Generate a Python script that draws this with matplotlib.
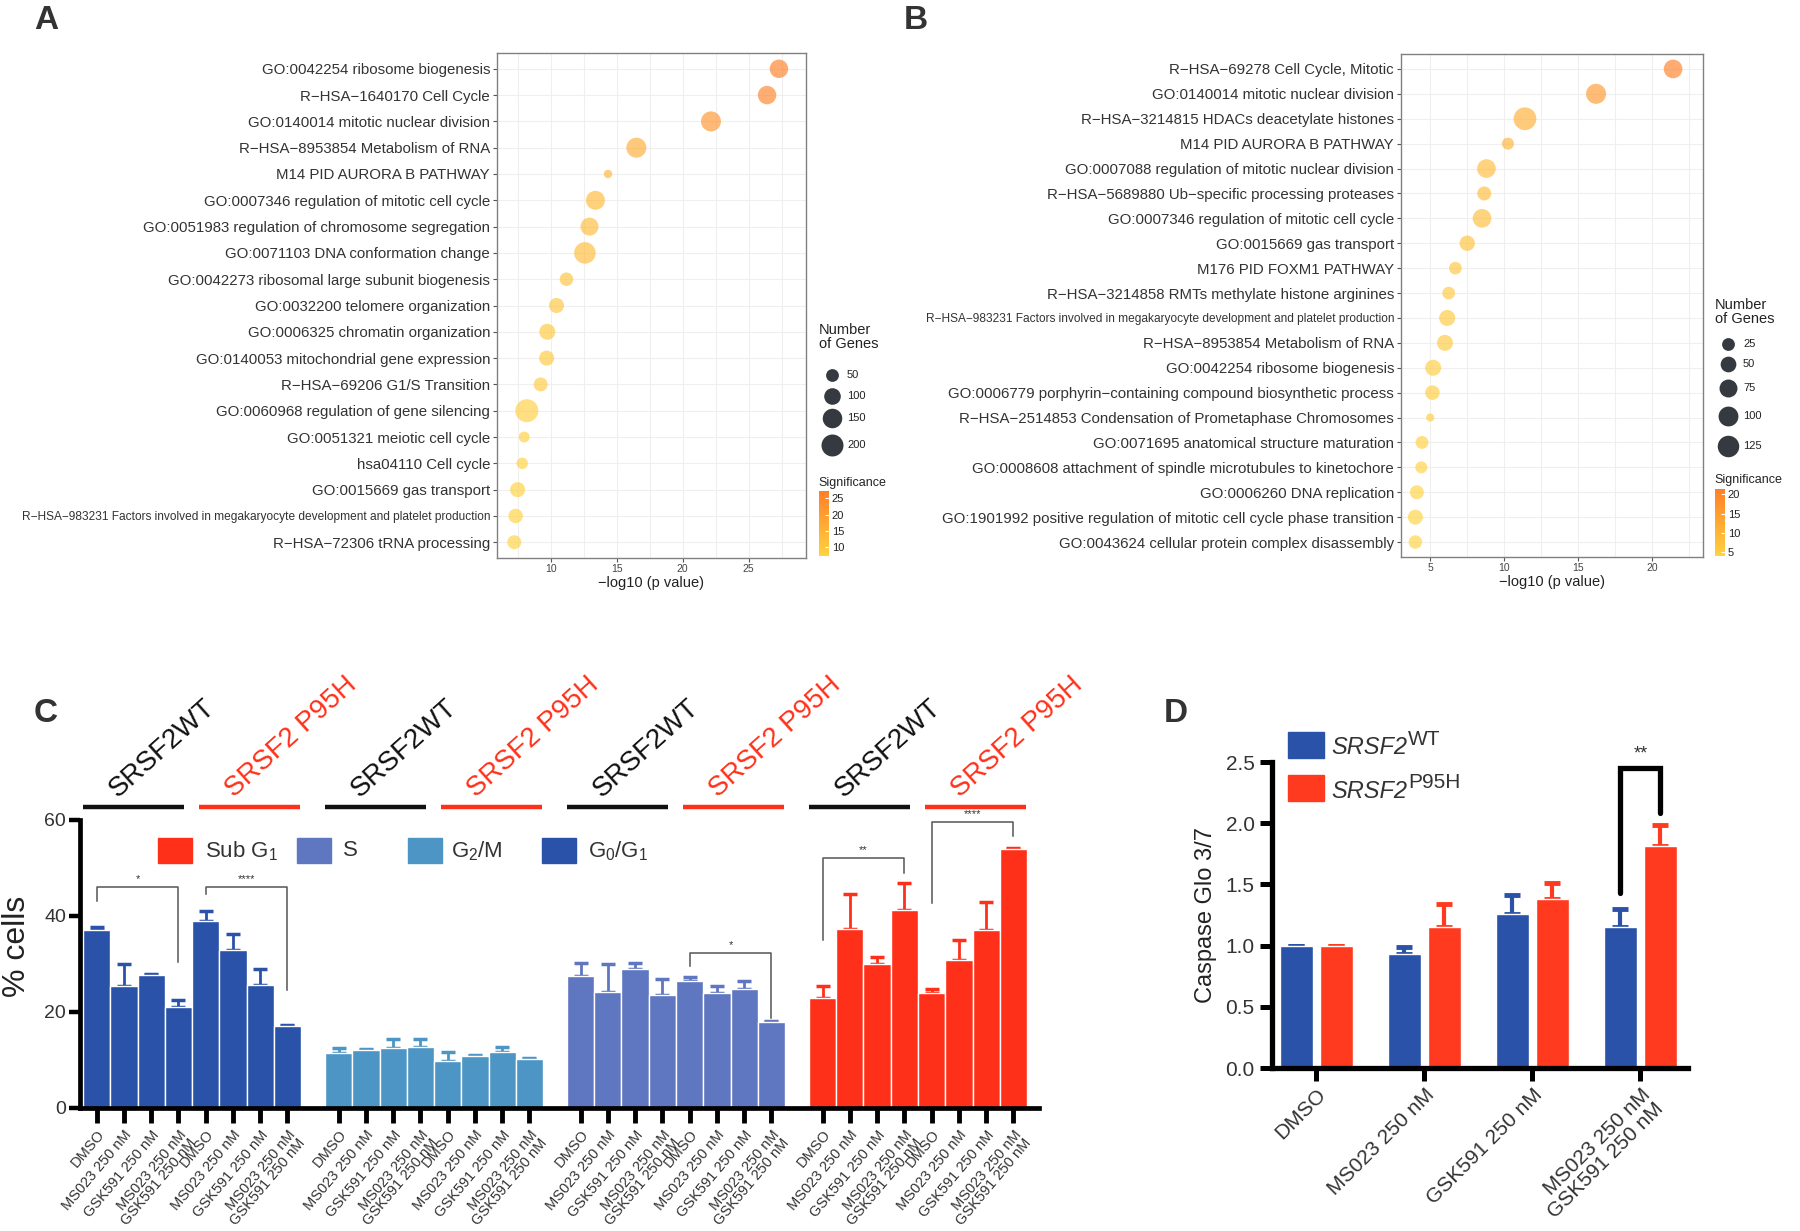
import numpy as np
import matplotlib
matplotlib.use("Agg")
import matplotlib.pyplot as plt
from matplotlib import font_manager
from matplotlib.colors import LinearSegmentedColormap, Normalize
from matplotlib.cm import ScalarMappable
from matplotlib.patches import Rectangle

W, H = 1800, 1231

# ---------------- data ----------------
A_terms = [
    "GO:0042254 ribosome biogenesis",
    "R\u2212HSA\u22121640170 Cell Cycle",
    "GO:0140014 mitotic nuclear division",
    "R\u2212HSA\u22128953854 Metabolism of RNA",
    "M14 PID AURORA B PATHWAY",
    "GO:0007346 regulation of mitotic cell cycle",
    "GO:0051983 regulation of chromosome segregation",
    "GO:0071103 DNA conformation change",
    "GO:0042273 ribosomal large subunit biogenesis",
    "GO:0032200 telomere organization",
    "GO:0006325 chromatin organization",
    "GO:0140053 mitochondrial gene expression",
    "R\u2212HSA\u221269206 G1/S Transition",
    "GO:0060968 regulation of gene silencing",
    "GO:0051321 meiotic cell cycle",
    "hsa04110 Cell cycle",
    "GO:0015669 gas transport",
    "R\u2212HSA\u2212983231 Factors involved in megakaryocyte development and platelet production",
    "R\u2212HSA\u221272306 tRNA processing",
]
A_logp = [27.3, 26.4, 22.15, 16.5, 14.35, 13.4, 12.95, 12.6, 11.2, 10.45,
          9.75, 9.7, 9.25, 8.2, 8.0, 7.85, 7.5, 7.35, 7.25]
A_genes = [131, 131, 159, 159, 14, 140, 123, 190, 58, 77,
           91, 77, 64, 223, 32, 37, 77, 70, 64]

B_terms = [
    "R\u2212HSA\u221269278 Cell Cycle, Mitotic",
    "GO:0140014 mitotic nuclear division",
    "R\u2212HSA\u22123214815 HDACs deacetylate histones",
    "M14 PID AURORA B PATHWAY",
    "GO:0007088 regulation of mitotic nuclear division",
    "R\u2212HSA\u22125689880 Ub\u2212specific processing proteases",
    "GO:0007346 regulation of mitotic cell cycle",
    "GO:0015669 gas transport",
    "M176 PID FOXM1 PATHWAY",
    "R\u2212HSA\u22123214858 RMTs methylate histone arginines",
    "R\u2212HSA\u2212983231 Factors involved in megakaryocyte development and platelet production",
    "R\u2212HSA\u22128953854 Metabolism of RNA",
    "GO:0042254 ribosome biogenesis",
    "GO:0006779 porphyrin\u2212containing compound biosynthetic process",
    "R\u2212HSA\u22122514853 Condensation of Prometaphase Chromosomes",
    "GO:0071695 anatomical structure maturation",
    "GO:0008608 attachment of spindle microtubules to kinetochore",
    "GO:0006260 DNA replication",
    "GO:1901992 positive regulation of mitotic cell cycle phase transition",
    "GO:0043624 cellular protein complex disassembly",
]
B_logp = [21.4, 16.2, 11.4, 10.25, 8.8, 8.65, 8.5, 7.5, 6.7, 6.25,
          6.15, 6.0, 5.2, 5.15, 5.0, 4.45, 4.4, 4.1, 4.0, 4.0]
B_genes = [84, 102, 145, 20, 84, 34, 84, 46, 24, 24,
           53, 53, 53, 39, 3, 26, 20, 34, 43, 30]

C_conditions = ["DMSO", "MS023 250 nM", "GSK591 250 nM", "MS023 250 nM\nGSK591 250 nM"]
C_genotypes = ["SRSF2WT", "SRSF2 P95H"]
C_phases = ["G$_0$/G$_1$", "G$_2$/M", "S", "Sub G$_1$"]
# 8 bars per phase: WT x4 conditions, then P95H x4 conditions
C_g0g1 = [37.1, 25.5, 27.7, 21.0, 38.9, 33.0, 25.6, 17.0]
C_g0g1_err = [0.7, 4.6, 0.2, 1.5, 2.2, 3.2, 3.4, 0.2]
C_g2m = [11.5, 12.0, 12.4, 12.8, 9.7, 10.9, 11.7, 10.2]
C_g2m_err = [0.9, 0.2, 1.9, 1.6, 2.0, 0.2, 1.1, 0.2]
C_s = [27.4, 24.1, 29.0, 23.6, 26.5, 24.0, 24.7, 17.9]
C_s_err = [2.8, 5.9, 1.3, 3.3, 0.8, 1.5, 1.8, 0.2]
C_subg1 = [23.0, 37.3, 30.0, 41.3, 23.9, 30.9, 37.0, 54.0]
C_subg1_err = [2.4, 7.2, 1.5, 5.5, 0.9, 4.1, 6.0, 0.2]
# (phase, first bar, last bar, bracket top, left foot, right foot, label)
C_brackets = [
    (0, 0, 3, 46.1, 43.2, 30.4, "*"),
    (0, 4, 7, 46.1, 44.6, 24.5, "****"),
    (2, 4, 7, 32.2, 29.5, 18.7, "*"),
    (3, 0, 3, 52.0, 35.1, 49.0, "**"),
    (3, 4, 7, 59.6, 42.7, 56.7, "****"),
]

D_conditions = ["DMSO", "MS023 250 nM", "GSK591 250 nM", "MS023 250 nM\nGSK591 250 nM"]
D_wt = [1.0, 0.93, 1.26, 1.15]
D_wt_err = [0.0, 0.06, 0.155, 0.15]
D_mut = [1.0, 1.155, 1.38, 1.815]
D_mut_err = [0.0, 0.185, 0.13, 0.17]

# ---------------- style ----------------
plt.rcParams["font.family"] = ["Liberation Sans", "DejaVu Sans"]
plt.rcParams["mathtext.fontset"] = "custom"
plt.rcParams["mathtext.rm"] = "Liberation Sans"
plt.rcParams["mathtext.it"] = "Liberation Sans:italic"
plt.rcParams["mathtext.bf"] = "Liberation Sans:bold"

names = {f.name for f in font_manager.fontManager.ttflist}
if "Liberation Sans Narrow" in names:
    LAB_FONT, LAB_SIZE = ["Liberation Sans Narrow", "DejaVu Sans"], 12.8
else:
    LAB_FONT, LAB_SIZE = ["Liberation Sans", "DejaVu Sans"], 10.8

BLUE_DARK = "#2A52A8"
BLUE_G2M = "#4C95C4"
BLUE_S = "#5F76C0"
RED = "#FF3019"
TXT = "#333333"

cmap = LinearSegmentedColormap.from_list("sig", ["#FFD23F", "#FF7F27"])


def box(l, t, r, b):
    return [l / W, 1 - b / H, (r - l) / W, (b - t) / H]


def dot_size(genes, a, b):
    d = a + b * np.sqrt(np.asarray(genes, dtype=float))  # diameter in px
    return (d * 0.72) ** 2


fig = plt.figure(figsize=(W / 100, H / 100), dpi=100)
cv = fig.add_axes([0, 0, 1, 1], zorder=10)
cv.set_xlim(0, W)
cv.set_ylim(H, 0)
cv.axis("off")
cv.patch.set_alpha(0)


def dot_panel(rect, terms, logp, genes, sa, sb, xticks, xlim,
              leg_vals, leg_x, leg_ys, title_y, sig_y, cbar_rect, cbar_ticks):
    ax = fig.add_axes(box(*rect))
    y = np.arange(len(terms))
    norm = Normalize(min(logp), max(logp))
    ax.scatter(logp, y, s=dot_size(genes, sa, sb), c=logp, cmap=cmap, norm=norm,
               alpha=0.65, linewidths=0, zorder=3)
    ax.set_ylim(len(terms) - 0.4, -0.6)
    ax.set_xlim(*xlim)
    ax.set_yticks(y)
    ax.set_yticklabels(terms)
    for lab in ax.get_yticklabels():
        lab.set_family(LAB_FONT)
        lab.set_color("#333333")
        lab.set_fontsize(LAB_SIZE * (0.79 if len(lab.get_text()) > 70 else 1.0))
    ax.set_xticks(xticks)
    minor = [v + 2.5 for v in [xticks[0] - 5] + list(xticks)
             if xlim[0] < v + 2.5 < xlim[1]]
    ax.set_xticks(minor, minor=True)
    ax.tick_params(axis="x", which="major", labelsize=7.5, length=3, color="#555",
                   labelcolor="#444", pad=1.5)
    ax.tick_params(axis="x", which="minor", length=0)
    ax.tick_params(axis="y", length=3, color="#555", pad=2)
    ax.grid(which="both", color="#EFEFEF", lw=0.8)
    ax.set_axisbelow(True)
    for sp in ax.spines.values():
        sp.set_color("#808080")
        sp.set_linewidth(1.0)
    ax.set_xlabel("\u2212log10 (p value)", fontsize=10.5, color="#222", labelpad=1)

    # size legend
    x0 = leg_x - 13
    cv.text(x0, title_y, "Number\nof Genes", fontsize=10.5, color="#222",
            va="top", ha="left", linespacing=1.0)
    for v, yy in zip(leg_vals, leg_ys):
        cv.scatter([leg_x], [yy], s=dot_size([v], sa, sb), color="#353A40", linewidths=0)
        cv.text(leg_x + 15, yy, str(v), fontsize=8, color="#222", va="center", ha="left")
    cv.text(x0 - 1, sig_y, "Significance", fontsize=9, color="#222", va="center", ha="left")
    cax = fig.add_axes(box(*cbar_rect))
    cb = fig.colorbar(ScalarMappable(norm=norm, cmap=cmap), cax=cax, ticks=cbar_ticks)
    cb.outline.set_visible(False)
    cax.tick_params(length=3, color="white", direction="in", labelsize=8,
                    labelcolor="#222", pad=2)
    return ax


dot_panel((497, 53, 806, 558), A_terms, A_logp, A_genes, 3.6, 1.30,
          [10, 15, 20, 25], (5.94, 29.35),
          [50, 100, 150, 200], 832, [375, 396, 418, 445], 323, 483,
          (819, 491, 829, 556), [10, 15, 20, 25])

dot_panel((1401, 54, 1703, 557), B_terms, B_logp, B_genes, 5.75, 1.41,
          [5, 10, 15, 20], (3.03, 23.42),
          [25, 50, 75, 100, 125], 1728, [344, 364, 388, 416, 446], 298, 480,
          (1715, 489, 1725, 556), [5, 10, 15, 20])

# ---------------- panel C ----------------
axC = fig.add_axes(box(80, 820, 1039, 1108))
C_vals = [C_g0g1, C_g2m, C_s, C_subg1]
C_errs = [C_g0g1_err, C_g2m_err, C_s_err, C_subg1_err]
C_cols = [BLUE_DARK, BLUE_G2M, BLUE_S, RED]
gap = 8.88
ticks, ticklabels = [], []
for g, (vals, errs, col) in enumerate(zip(C_vals, C_errs, C_cols)):
    x = g * gap + np.arange(8)
    axC.bar(x, vals, width=1.0, color=col, edgecolor="white", linewidth=1.0, zorder=2)
    axC.errorbar(x, vals, yerr=[np.zeros(8), errs], fmt="none", ecolor=col,
                 elinewidth=2, capsize=5, capthick=2.5, zorder=1)
    ticks += list(x)
    ticklabels += C_conditions * 2
    # genotype header lines and labels
    for s, (name, lcol) in enumerate(zip(C_genotypes, ["#111111", RED])):
        start = g * gap + s * 4.26 - 0.5
        axC.plot([start, start + 3.7], [62.8, 62.8], color=lcol, lw=3.2,
                 solid_capstyle="butt", clip_on=False)
        axC.text(start + 1.28, 64.6, name, color=lcol, fontsize=20, rotation=42,
                 rotation_mode="anchor", ha="left", va="baseline")

for ph, i0, i1, top, lf, rf, lab in C_brackets:
    xa, xb = ph * gap + i0, ph * gap + i1
    axC.plot([xa, xa, xb, xb], [lf, top, top, rf], color="#555555", lw=1.1,
             clip_on=False, zorder=3)
    axC.text((xa + xb) / 2, top + 0.6, lab, fontsize=8, ha="center", va="bottom",
             color="#333", clip_on=False)

axC.set_xlim(-0.61, 34.58)
axC.set_ylim(0, 60)
axC.set_yticks([0, 20, 40, 60])
axC.set_xticks(ticks)
axC.set_xticklabels(ticklabels, rotation=50, ha="right", rotation_mode="anchor",
                    fontsize=10.5, color=TXT, linespacing=0.95)
axC.tick_params(axis="x", length=11, width=3.5, pad=3)
axC.tick_params(axis="y", length=8, width=3.2, labelsize=14, labelcolor=TXT, pad=2)
for k in ["top", "right"]:
    axC.spines[k].set_visible(False)
for k in ["left", "bottom"]:
    axC.spines[k].set_linewidth(3.4)
axC.set_ylabel("% cells", fontsize=23, color="#222")
axC.yaxis.set_label_coords(-0.05, 0.56)

# legend of panel C
for lx, tx, lab, col in [(158, 205, C_phases[3], RED), (297, 343, C_phases[2], BLUE_S),
                         (408, 451, C_phases[1], BLUE_G2M), (542, 588, C_phases[0], BLUE_DARK)]:
    cv.add_patch(Rectangle((lx, 838), 34, 25, color=col))
    cv.text(tx, 851, lab, fontsize=16, color=TXT, va="center", ha="left")

# ---------------- panel D ----------------
axD = fig.add_axes(box(1272, 762, 1688, 1068))
xd = np.arange(len(D_conditions))
off, bw = 0.185, 0.305
axD.bar(xd - off, D_wt, width=bw, color=BLUE_DARK, edgecolor="white", linewidth=1, zorder=2)
axD.bar(xd + off, D_mut, width=bw, color="#FF3A1E", edgecolor="white", linewidth=1, zorder=2)
axD.errorbar(xd - off, D_wt, yerr=[np.zeros(4), D_wt_err], fmt="none", ecolor=BLUE_DARK,
             elinewidth=3, capsize=6, capthick=3.5, zorder=1)
axD.errorbar(xd + off, D_mut, yerr=[np.zeros(4), D_mut_err], fmt="none", ecolor="#FF3A1E",
             elinewidth=3, capsize=6, capthick=3.5, zorder=1)
xa, xb = xd[3] - off, xd[3] + off
axD.plot([xa, xa, xb, xb], [1.43, 2.45, 2.45, 2.08], color="black", lw=3.8,
         solid_capstyle="round", solid_joinstyle="miter", clip_on=False)
axD.text((xa + xb) / 2, 2.5, "**", fontsize=13, ha="center", va="bottom", color=TXT)
axD.set_xlim(-0.41, 3.44)
axD.set_ylim(0, 2.5)
axD.set_yticks(np.arange(0, 2.51, 0.5))
axD.set_yticklabels([f"{v:.1f}" for v in np.arange(0, 2.51, 0.5)])
axD.set_xticks(xd)
axD.set_xticklabels(D_conditions, rotation=45, ha="right", rotation_mode="anchor",
                    fontsize=15, color=TXT, linespacing=1.0)
axD.tick_params(axis="both", length=9, width=3.6, labelsize=15, labelcolor=TXT)
for k in ["top", "right"]:
    axD.spines[k].set_visible(False)
for k in ["left", "bottom"]:
    axD.spines[k].set_linewidth(3.8)
axD.set_ylabel("Caspase Glo 3/7", fontsize=17, color="#222", labelpad=6)

cv.add_patch(Rectangle((1288, 732), 36, 26, color=BLUE_DARK))
cv.add_patch(Rectangle((1288, 775), 36, 26, color="#FF3A1E"))
for yy, sup in [(748, "WT"), (791, "P95H")]:
    t = cv.text(1331, yy, "SRSF2", fontsize=17, style="italic", color=TXT, va="center")
    cv.annotate(sup, xy=(1.0, 0.45), xycoords=t, xytext=(1, 0), textcoords="offset points",
                fontsize=15, color=TXT, va="bottom", ha="left")

# panel letters
for lx, ly, lab in [(34, 5, "A"), (904, 5, "B"), (34, 698, "C"), (1164, 698, "D")]:
    cv.text(lx, ly, lab, fontsize=24, fontweight="bold", color=TXT, va="top", ha="left")

fig.savefig("out.png", dpi=100)
